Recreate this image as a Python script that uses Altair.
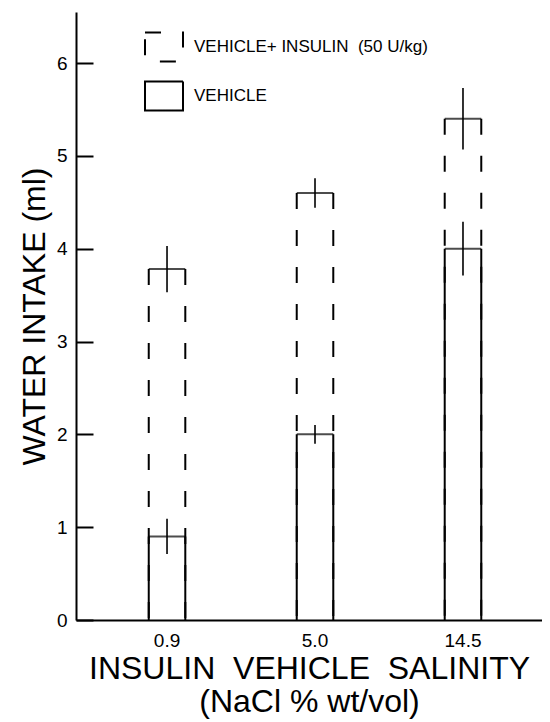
import altair as alt
import pandas as pd

categories = ["0.9", "5.0", "14.5"]
series_names = ["VEHICLE+ INSULIN \u00a0(50 U/kg)", "VEHICLE"]
insulin_mean = [3.78, 4.60, 5.40]
insulin_err = [0.25, 0.16, 0.33]
vehicle_mean = [0.90, 2.00, 4.00]
vehicle_err = [0.19, 0.10, 0.29]
y_ticks = [0, 1, 2, 3, 4, 5, 6]
sides = ["L", "R"]
x_title = ["INSULIN\u00a0 VEHICLE\u00a0 SALINITY", "(NaCl % wt/vol)"]
y_title = "WATER INTAKE (ml)"

rows = []
for name, means, errs in [(series_names[0], insulin_mean, insulin_err),
                          (series_names[1], vehicle_mean, vehicle_err)]:
    for c, m, e in zip(categories, means, errs):
        rows.append({"cat": c, "series": name, "value": m, "lo": m - e, "hi": m + e})
df = pd.DataFrame(rows)
df_sides = pd.DataFrame([dict(r, side=s) for r in rows for s in sides])

FONT = "Liberation Sans"

xscale = alt.Scale(domain=categories, paddingInner=0.753, paddingOuter=0.451, align=0.545)
yscale = alt.Scale(domain=[0, 6.55], nice=False)

x_enc = alt.X("cat:N", sort=categories, scale=xscale, title=x_title)

# the y grid is cut to a short dash at the left edge, giving inward tick marks
y_axis = alt.Axis(values=y_ticks, format="d", grid=True, gridColor="black",
                  gridWidth=2, gridDash=[17, 2000], gridOpacity=1)

side_rules = alt.Chart(df_sides).mark_rule(color="black", strokeWidth=2).encode(
    x=x_enc,
    xOffset=alt.XOffset("side:N", scale=alt.Scale(type="point", padding=0, domain=sides)),
    y=alt.Y("value:Q", scale=yscale, title=y_title, axis=y_axis),
    y2=alt.datum(0),
    strokeDash=alt.StrokeDash(
        "series:N",
        scale=alt.Scale(domain=series_names, range=[[16, 21], [1, 0]]),
        legend=alt.Legend(
            title=None, orient="none", legendX=68, legendY=15,
            symbolType="M-1,-0.76H1V0.76H-1Z", symbolSize=1444,
            symbolStrokeWidth=2, symbolStrokeColor="black",
            symbolFillColor="transparent", labelFontSize=17, labelOffset=10,
            rowPadding=10, labelFont=FONT, labelColor="black", labelLimit=0,
        ),
    ),
)

tops = alt.Chart(df).mark_tick(color="black", thickness=2, size=36.5).encode(
    x=alt.X("cat:N", sort=categories, scale=xscale),
    y=alt.Y("value:Q", scale=yscale),
)

errbars = alt.Chart(df).mark_rule(color="black", strokeWidth=1.6).encode(
    x=alt.X("cat:N", sort=categories, scale=xscale),
    y=alt.Y("lo:Q", scale=yscale),
    y2="hi:Q",
)

chart = alt.layer(side_rules, tops, errbars).properties(
    width=466, height=608,
    autosize=alt.AutoSizeParams(type="none"),
    padding={"left": 68, "top": 4, "right": 0, "bottom": 100},
).configure_view(stroke=None).configure_axis(
    domainWidth=2, domainColor="black", labelColor="black",
    titleColor="black", labelFont=FONT, titleFont=FONT, titleFontWeight="normal",
    titleFontSize=32,
).configure_axisX(
    grid=False, ticks=False, labelAngle=0, labelFontSize=19, labelPadding=11,
    titlePadding=3, titleLineHeight=33,
).configure_axisY(
    ticks=False, labelFontSize=19, labelPadding=9, titlePadding=5,
)

chart.save("out.html", embed_options={"renderer": "svg", "actions": False})
